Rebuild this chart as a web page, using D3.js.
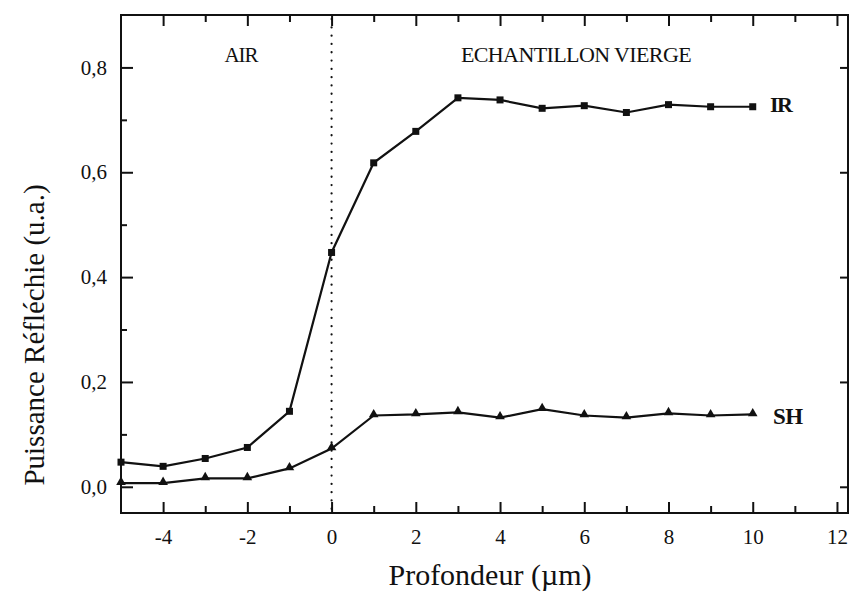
<!DOCTYPE html>
<html><head><meta charset="utf-8">
<script src="https://cdn.jsdelivr.net/npm/d3@7"></script>
<style>body{margin:0;background:#fff}svg{display:block}</style>
</head><body><svg id="c" width="849" height="595"></svg>
<script>
const depth = [-5,-4,-3,-2,-1,0,1,2,3,4,5,6,7,8,9,10];
const irValues = [0.047,0.039,0.054,0.075,0.144,0.447,0.618,0.678,0.742,0.738,0.722,0.727,0.714,0.729,0.725,0.725];
const shValues = [0.007,0.007,0.016,0.016,0.035,0.073,0.136,0.138,0.142,0.132,0.148,0.136,0.132,0.140,0.136,0.138];
const xTickLabels = [-4,-2,0,2,4,6,8,10,12];
const xMinorTicks = [-3,-1,1,3,5,7,9,11];
const yTickLabels = [0,0.2,0.4,0.6,0.8];
const yMinorTicks = [0.1,0.3,0.5,0.7];
const seriesNames = ["IR","SH"];
const regionLabels = ["AIR","ECHANTILLON VIERGE"];

const FONT = '"Liberation Serif", monospace';
// warm up the font
const ctx0 = document.createElement("canvas").getContext("2d");
ctx0.font = '30px "Liberation Serif", monospace'; ctx0.measureText("Profondeur Réfléchie 0,8");
ctx0.font = 'bold 30px "Liberation Serif", monospace'; ctx0.measureText("IR SH");

const svg = d3.select("#c");
const L=121, R=848, T=15, B=513;
const x = d3.scaleLinear().domain([-5,12.262]).range([L,R]);
const y = d3.scaleLinear().domain([-0.05,0.9]).range([B,T]);
const fmt = d => d3.format(".1f")(d).replace(".",",");
const fmtX = d => String(d);

// frame
svg.append("rect").attr("x",L).attr("y",T).attr("width",R-L).attr("height",B-T)
  .attr("fill","none").attr("stroke","#111").attr("stroke-width",2);

// axes (ticks)
const gB = svg.append("g").attr("transform",`translate(0,${B})`)
  .call(d3.axisBottom(x).tickValues(xTickLabels).tickSize(-11).tickPadding(16).tickFormat(fmtX));
gB.call(g=>g.select(".domain").remove());
svg.append("g").attr("transform",`translate(0,${B})`)
  .call(d3.axisBottom(x).tickValues(xMinorTicks).tickSize(-7).tickFormat(""))
  .call(g=>g.select(".domain").remove());
svg.append("g").attr("transform",`translate(0,${T})`)
  .call(d3.axisTop(x).tickValues(xTickLabels).tickSize(-11).tickFormat(""))
  .call(g=>g.select(".domain").remove());
svg.append("g").attr("transform",`translate(0,${T})`)
  .call(d3.axisTop(x).tickValues(xMinorTicks).tickSize(-7).tickFormat(""))
  .call(g=>g.select(".domain").remove());
const gL = svg.append("g").attr("transform",`translate(${L},0)`)
  .call(d3.axisLeft(y).tickValues(yTickLabels).tickSize(-12).tickPadding(14).tickFormat(fmt));
gL.call(g=>g.select(".domain").remove());
svg.append("g").attr("transform",`translate(${L},0)`)
  .call(d3.axisLeft(y).tickValues(yMinorTicks).tickSize(-6).tickFormat(""))
  .call(g=>g.select(".domain").remove());
svg.append("g").attr("transform",`translate(${R},0)`)
  .call(d3.axisRight(y).tickValues(yTickLabels).tickSize(-8).tickFormat(""))
  .call(g=>g.select(".domain").remove());
svg.selectAll(".tick line").attr("stroke","#111").attr("stroke-width",2);
svg.selectAll("g").attr("font-family",null).attr("font-size",null);
svg.selectAll(".tick text").attr("font-size",21);

// dotted line at 0
svg.append("line").attr("x1",x(0)).attr("x2",x(0)).attr("y1",T+4).attr("y2",B)
  .attr("stroke","#111").attr("stroke-width",2.2).attr("stroke-linecap","round")
  .attr("stroke-dasharray","0.1,8.2");

// lines
const line = vals => d3.line().x((d,i)=>x(depth[i])).y(d=>y(d))(vals);
svg.append("path").attr("d",line(irValues)).attr("fill","none").attr("stroke","#111").attr("stroke-width",2.2);
svg.append("path").attr("d",line(shValues)).attr("fill","none").attr("stroke","#111").attr("stroke-width",2.2);

svg.selectAll(".sq").data(irValues).join("rect")
  .attr("x",(d,i)=>x(depth[i])-3.5).attr("y",d=>y(d)-3.5).attr("width",7).attr("height",7).attr("fill","#111");
const tri = d3.symbol().type(d3.symbolTriangle).size(40);
svg.selectAll(".tr").data(shValues).join("path")
  .attr("d",tri).attr("transform",(d,i)=>`translate(${x(depth[i])},${y(d)-1})`).attr("fill","#111");

// series labels
svg.append("text").attr("x",770).attr("y",112).attr("font-size",22).attr("font-weight","bold")
  .attr("letter-spacing",-1.5).text(seriesNames[0]);
svg.append("text").attr("x",773).attr("y",424).attr("font-size",23).attr("font-weight","bold")
  .attr("letter-spacing",-0.5).text(seriesNames[1]);

// region labels
svg.append("text").attr("x",241).attr("y",62).attr("text-anchor","middle").attr("font-size",21)
  .attr("letter-spacing",-1).text(regionLabels[0]);
svg.append("text").attr("x",576).attr("y",62).attr("text-anchor","middle").attr("font-size",22)
  .attr("letter-spacing",-0.6).text(regionLabels[1]);

// axis titles
svg.append("text").attr("x",490).attr("y",585).attr("text-anchor","middle").attr("font-size",30)
  .text("Profondeur (µm)");
svg.append("text").attr("transform","translate(44,335) rotate(-90)").attr("text-anchor","middle")
  .attr("font-size",29).text("Puissance Réfléchie (u.a.)");

svg.selectAll("text").style("font-family",FONT).attr("fill","#111");
if (document.fonts && document.fonts.load) {
  document.fonts.load('21px "Liberation Serif"').then(()=>svg.selectAll("text").style("font-family",FONT));
}
</script></body></html>
